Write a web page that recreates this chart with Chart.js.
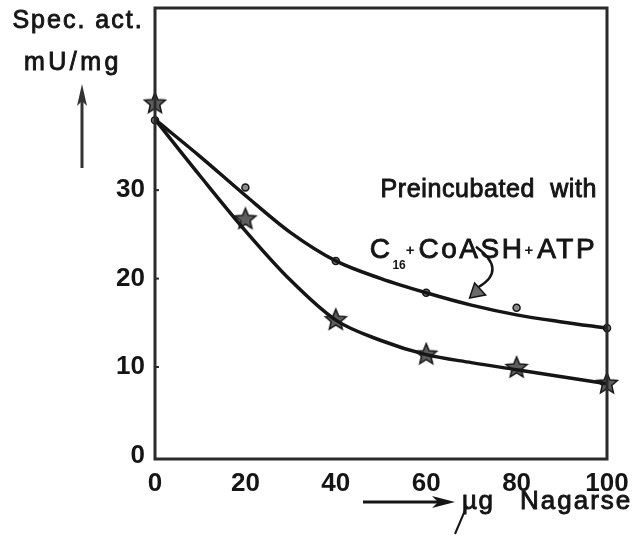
<!DOCTYPE html>
<html>
<head>
<meta charset="utf-8">
<script src="https://cdn.jsdelivr.net/npm/chart.js@4"></script>
<style>
  html, body { margin: 0; padding: 0; background: #fff; }
  canvas { display: block; }
</style>
</head>
<body>
<canvas id="chart" width="637" height="536"></canvas>
<script>
// measured points
const doses = [0, 20, 40, 60, 80, 100];
const preincubated = [37.9, 30.3, 22.0, 18.4, 16.7, 14.4];
const control = [39.8, 26.7, 15.3, 11.4, 9.9, 8.1];

// hand-drawn fitted curves
const curveX = [0, 10, 20, 30, 40, 50, 60, 70, 80, 90, 100];
const preincubatedCurve = [38.0, 33.8, 29.4, 25.2, 22.0, 20.0, 18.4, 17.0, 15.9, 15.1, 14.4];
const controlCurve = [38.0, 31.6, 25.4, 19.8, 15.3, 13.0, 11.4, 10.5, 9.7, 8.9, 8.1];

const xTicks = [0, 20, 40, 60, 80, 100];
const yTicks = [0, 10, 20, 30];

const FONT = '"Liberation Sans", Arial, sans-serif';
const INK = '#151515';

function makeStar(r) {
    const c = document.createElement('canvas');
    const s = Math.ceil(r * 2 + 4);
    c.width = s; c.height = s;
    const g = c.getContext('2d');
    g.translate(s / 2, s / 2);
    g.beginPath();
    for (let i = 0; i < 10; i++) {
        const rad = i % 2 === 0 ? r : r * 0.45;
        const a = -Math.PI / 2 + i * Math.PI / 5;
        g.lineTo(Math.cos(a) * rad, Math.sin(a) * rad);
    }
    g.closePath();
    g.fillStyle = '#5e5e5e';
    g.fill();
    g.lineWidth = 1.5;
    g.strokeStyle = INK;
    g.stroke();
    return c;
}

const pts = (xs, ys) => xs.map((x, i) => ({ x: x, y: ys[i] }));

// medium-weight text: regular face with a thin outline
function label(ctx, text, x, y, spacing) {
    ctx.letterSpacing = (spacing || 0) + 'px';
    ctx.fillText(text, x, y);
    ctx.strokeText(text, x, y);
}

const frame = {
    id: 'frame',
    afterDraw(chart) {
        const { ctx, chartArea: a, scales } = chart;
        const xs = scales.x, ys = scales.y;
        ctx.save();
        ctx.strokeStyle = '#2a2a2a';
        ctx.lineWidth = 3;
        ctx.strokeRect(a.left, a.top, a.right - a.left, a.bottom - a.top);

        // small inward ticks on left axis
        ctx.lineWidth = 2;
        [10, 20, 30].forEach(v => {
            const y = ys.getPixelForValue(v);
            ctx.beginPath(); ctx.moveTo(a.left, y); ctx.lineTo(a.left + 4, y); ctx.stroke();
        });

        ctx.fillStyle = INK;
        ctx.strokeStyle = INK;
        ctx.lineWidth = 0.9;
        ctx.textBaseline = 'alphabetic';

        // y axis title
        ctx.font = '25px ' + FONT;
        ctx.textAlign = 'center';
        label(ctx, 'Spec. act.', 78, 28, 2);
        label(ctx, 'mU/mg', 73, 70, 3.5);
        ctx.letterSpacing = '0px';
        // up arrow
        ctx.strokeStyle = '#333';
        ctx.lineWidth = 3;
        ctx.beginPath(); ctx.moveTo(82, 168); ctx.lineTo(82, 100); ctx.stroke();
        ctx.beginPath();
        ctx.moveTo(82, 84); ctx.lineTo(77, 106); ctx.lineTo(82, 101); ctx.lineTo(87, 106);
        ctx.closePath();
        ctx.fillStyle = '#333';
        ctx.fill();

        // x axis title
        ctx.fillStyle = INK;
        ctx.strokeStyle = INK;
        ctx.lineWidth = 3;
        ctx.beginPath(); ctx.moveTo(363, 502); ctx.lineTo(445, 502); ctx.stroke();
        ctx.beginPath();
        ctx.moveTo(455, 502); ctx.lineTo(432, 496); ctx.lineTo(438, 502); ctx.lineTo(432, 508);
        ctx.closePath(); ctx.fill();
        ctx.lineWidth = 0.9;
        ctx.textAlign = 'left';
        ctx.font = '26px ' + FONT;
        label(ctx, '\u00b5g', 462, 509, 1.5);
        label(ctx, 'Nagarse', 520, 509, 2);
        ctx.letterSpacing = '0px';
        ctx.lineWidth = 2;
        ctx.beginPath(); ctx.moveTo(466, 508); ctx.lineTo(455, 534); ctx.stroke();

        // annotation
        ctx.lineWidth = 0.9;
        const right = xs.getPixelForValue(97.8);
        ctx.textAlign = 'right';
        ctx.font = '25px ' + FONT;
        label(ctx, 'Preincubated  with', right, ys.getPixelForValue(29.2), 0.6);
        const base = ys.getPixelForValue(22.3);
        const parts = [
            ['C', '28px', 0, 2.5], ['16', 'bold 12px', 11, 0], ['+', 'bold 15px', -3, 4],
            ['CoASH', '28px', 0, 2.5], ['+', 'bold 15px', -3, 4], ['ATP', '28px', 0, 2.5]
        ];
        let total = 0;
        parts.forEach(p => {
            ctx.font = p[1] + ' ' + FONT;
            ctx.letterSpacing = p[3] + 'px';
            p.push(ctx.measureText(p[0]).width);
            total += p[4];
        });
        let x = right - total;
        ctx.textAlign = 'left';
        parts.forEach(p => {
            ctx.font = p[1] + ' ' + FONT;
            if (p[1].startsWith('bold')) {
                ctx.letterSpacing = p[3] + 'px';
                ctx.fillText(p[0], x, base + p[2]);
            } else {
                label(ctx, p[0], x, base + p[2], p[3]);
            }
            x += p[4];
        });
        ctx.letterSpacing = '0px';

        // curved pointer
        const sx = xs.getPixelForValue(71.0), sy = ys.getPixelForValue(23.6);
        const cx = xs.getPixelForValue(78), cy = ys.getPixelForValue(21.0);
        const ex = xs.getPixelForValue(70.5), ey = ys.getPixelForValue(18.6);
        ctx.lineWidth = 2.5;
        ctx.beginPath(); ctx.moveTo(sx, sy); ctx.quadraticCurveTo(cx, cy, ex + 5, ey - 4); ctx.stroke();
        const tx = xs.getPixelForValue(69.6), ty = ys.getPixelForValue(17.8);
        ctx.beginPath();
        ctx.moveTo(tx, ty); ctx.lineTo(tx + 5, ty - 15); ctx.lineTo(tx + 16, ty - 3);
        ctx.closePath();
        ctx.fillStyle = '#6a6a6a'; ctx.fill();
        ctx.lineWidth = 1.5; ctx.stroke();
        ctx.restore();
    }
};

const star = makeStar(11);

new Chart(document.getElementById('chart').getContext('2d'), {
    type: 'scatter',
    data: {
        datasets: [
            {
                type: 'line',
                data: pts(curveX, preincubatedCurve),
                borderColor: INK,
                borderWidth: 3.5,
                pointRadius: 0,
                cubicInterpolationMode: 'monotone',
                fill: false
            },
            {
                type: 'line',
                data: pts(curveX, controlCurve),
                borderColor: INK,
                borderWidth: 3.5,
                pointRadius: 0,
                cubicInterpolationMode: 'monotone',
                fill: false
            },
            {
                data: pts(doses, preincubated),
                pointStyle: 'circle',
                pointRadius: 3.5,
                backgroundColor: '#8a8a8a',
                borderColor: INK,
                borderWidth: 1.5,
                showLine: false
            },
            {
                data: pts(doses, control),
                pointStyle: star,
                showLine: false
            }
        ]
    },
    options: {
        responsive: false,
        animation: false,
        clip: false,
        layout: { padding: { top: 8, right: 30, left: 0, bottom: 0 } },
        plugins: { legend: { display: false }, tooltip: { enabled: false } },
        scales: {
            x: {
                type: 'linear',
                min: 0,
                max: 100,
                afterBuildTicks: s => { s.ticks = xTicks.map(v => ({ value: v })); },
                afterFit: s => { s.height = 77; s.paddingLeft = 0; s.paddingRight = 0; },
                grid: { display: false, drawTicks: false },
                border: { display: false },
                ticks: { color: INK, padding: 9, font: { family: FONT, size: 26, weight: 'bold' } }
            },
            y: {
                type: 'linear',
                min: -0.4,
                max: 50.6,
                afterBuildTicks: s => { s.ticks = yTicks.map(v => ({ value: v })); },
                afterFit: s => { s.width = 155; s.paddingTop = 0; s.paddingBottom = 0; },
                grid: { display: false, drawTicks: false },
                border: { display: false },
                ticks: { color: INK, padding: 10, font: { family: FONT, size: 26, weight: 'bold' } }
            }
        }
    },
    plugins: [frame]
});
</script>
</body>
</html>
